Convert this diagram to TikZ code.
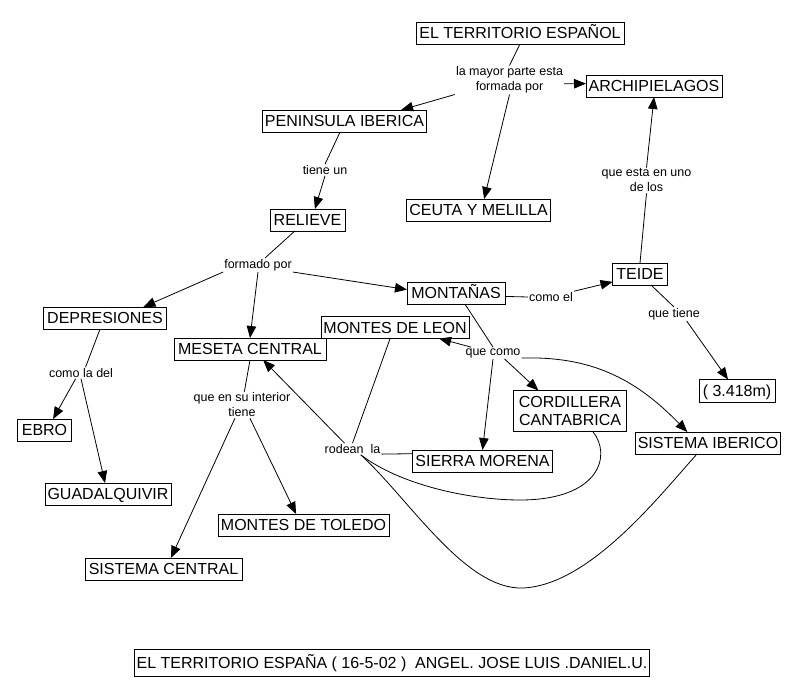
\documentclass[tikz,border=0pt]{standalone}
\usepackage{fontspec}
\setmainfont{Liberation Sans}
\usetikzlibrary{arrows.meta}
\begin{document}
\begin{tikzpicture}[x=1bp,y=-1bp,
  box/.style={draw,line width=0.8bp,font=\fontsize{16bp}{19bp}\selectfont,inner xsep=2.5bp,inner ysep=0bp,minimum height=22bp,text height=11.5bp,text depth=0bp,outer sep=0pt},
  mbox/.style={draw,line width=0.8bp,font=\fontsize{16bp}{18.5bp}\selectfont,align=center,inner xsep=2.5bp,inner ysep=0bp,outer sep=0pt},
  lab/.style={font=\fontsize{12.5bp}{15bp}\selectfont,align=center,inner sep=1bp},
  con/.style={line width=0.8bp},
  arr/.style={con,-{Triangle[length=12bp,width=9.5bp]}}]
\fill[white] (0,0) rectangle (798,696);
\useasboundingbox (0,0) rectangle (798,696);
% concept boxes
\node[box,minimum width=208bp] (terr) at (520,33) {EL TERRITORIO ESPAÑOL};
\node[box,minimum width=136bp] (arch) at (654,86) {ARCHIPIELAGOS};
\node[box,minimum width=162bp] (pen) at (344.5,121) {PENINSULA IBERICA};
\node[box,minimum width=143bp] (ceuta) at (478.5,210) {CEUTA Y MELILLA};
\node[box,minimum width=75bp] (rel) at (307.5,220) {RELIEVE};
\node[box,minimum width=55bp] (teide) at (640,274) {TEIDE};
\node[box,minimum width=98bp] (mont) at (456,293) {MONTAÑAS};
\node[box,minimum width=123bp] (depr) at (105,318) {DEPRESIONES};
\node[box,minimum width=148bp] (leon) at (395,327.5) {MONTES DE LEON};
\node[box,minimum width=152bp] (mes) at (250,349) {MESETA CENTRAL};
\node[box,minimum width=76bp,minimum height=23bp] (m3418) at (737,391) {( 3.418m)};
\node[mbox,minimum width=113bp,minimum height=41bp] (cord) at (570,411) {CORDILLERA\\CANTABRICA};
\node[box,minimum width=144bp] (ib) at (708,443) {SISTEMA IBERICO};
\node[box,minimum width=139bp] (sm) at (482.5,461) {SIERRA MORENA};
\node[box,minimum width=54bp] (ebro) at (44.5,430) {EBRO};
\node[box,minimum width=125bp] (guad) at (108,494) {GUADALQUIVIR};
\node[box,minimum width=171bp] (tol) at (303.5,525) {MONTES DE TOLEDO};
\node[box,minimum width=157bp] (sc) at (163.5,569) {SISTEMA CENTRAL};
\node[box,minimum width=505bp,minimum height=27bp] (foot) at (392,663) {EL TERRITORIO ESPAÑA ( 16-5-02 )\ \ ANGEL. JOSE LUIS .DANIEL.U.};
% linking labels
\node[lab] (lmp) at (509.5,80) {la mayor parte esta\\formada por};
\node[lab] (tu) at (325,170) {tiene un};
\node[lab] (fp) at (258,265) {formado por};
\node[lab] (ce) at (551,297) {como el};
\node[lab] (qe) at (646.5,180.5) {que esta en uno\\de los};
\node[lab] (qt) at (674,314) {que tiene};
\node[lab] (qc) at (493,353) {que como};
\node[lab] (cld) at (81,373) {como la del};
\node[lab] (qi) at (242,405) {que en su interior\\tiene};
\node[lab] (rl) at (352.5,449) {rodean\ \ la};
% connectors
\draw[con] (terr.south) -- (lmp.north);
\draw[arr] (lmp.south west) -- (pen.11);
\draw[arr] (lmp.-4) -- (arch.178);
\draw[arr] (lmp.south) -- (ceuta.63);
\draw[con] (pen.248) -- (tu.north);
\draw[arr] (tu.south) -- (rel.56);
\draw[con] (rel.221) -- (fp.45);
\draw[arr] (fp.south west) -- (depr.16);
\draw[arr] (fp.south) -- (mes.north);
\draw[arr] (fp.south east) -- (mont.176);
\draw[con] (mont.-4) -- (ce.west);
\draw[arr] (ce.north east) -- (teide.196);
\draw[con] (teide.north) -- (qe.south);
\draw[arr] (qe.north) -- (arch.south);
\draw[con] (teide.-45) -- (qt.north);
\draw[arr] (qt.-29) -- (m3418.128);
\draw[con] (mont.-51) -- (qc.north);
\draw[arr] (qc.165) -- (leon.-14);
\draw[arr] (qc.-27) -- (cord.147);
\draw[arr] (qc.-10) .. controls (590,356) and (635,378) .. (ib.152);
\draw[arr] (qc.south) -- (sm.north);
\draw[con] (depr.-114) -- (cld.52);
\draw[arr] (cld.-133) -- (ebro.52);
\draw[arr] (cld.south) -- (guad.105);
\draw[con] (mes.south) -- (qi.80);
\draw[arr] (qi.-118) -- (sc.56);
\draw[arr] (qi.-59) -- (tol.124);
\draw[arr] (rl.144) -- (mes.-40);
\draw[con] (leon.-114) -- (rl.north);
\draw[con] (rl.-10) -- (sm.174);
\draw[con] (cord.-42) .. controls (612,455) and (600,500) .. (520,500)
  .. controls (470,500) and (400,485) .. (rl.-35);
\draw[con] (ib.225) .. controls (660,495) and (590,585) .. (523,588)
  .. controls (465,590) and (410,500) .. (rl.-35);
\end{tikzpicture}
\end{document}
